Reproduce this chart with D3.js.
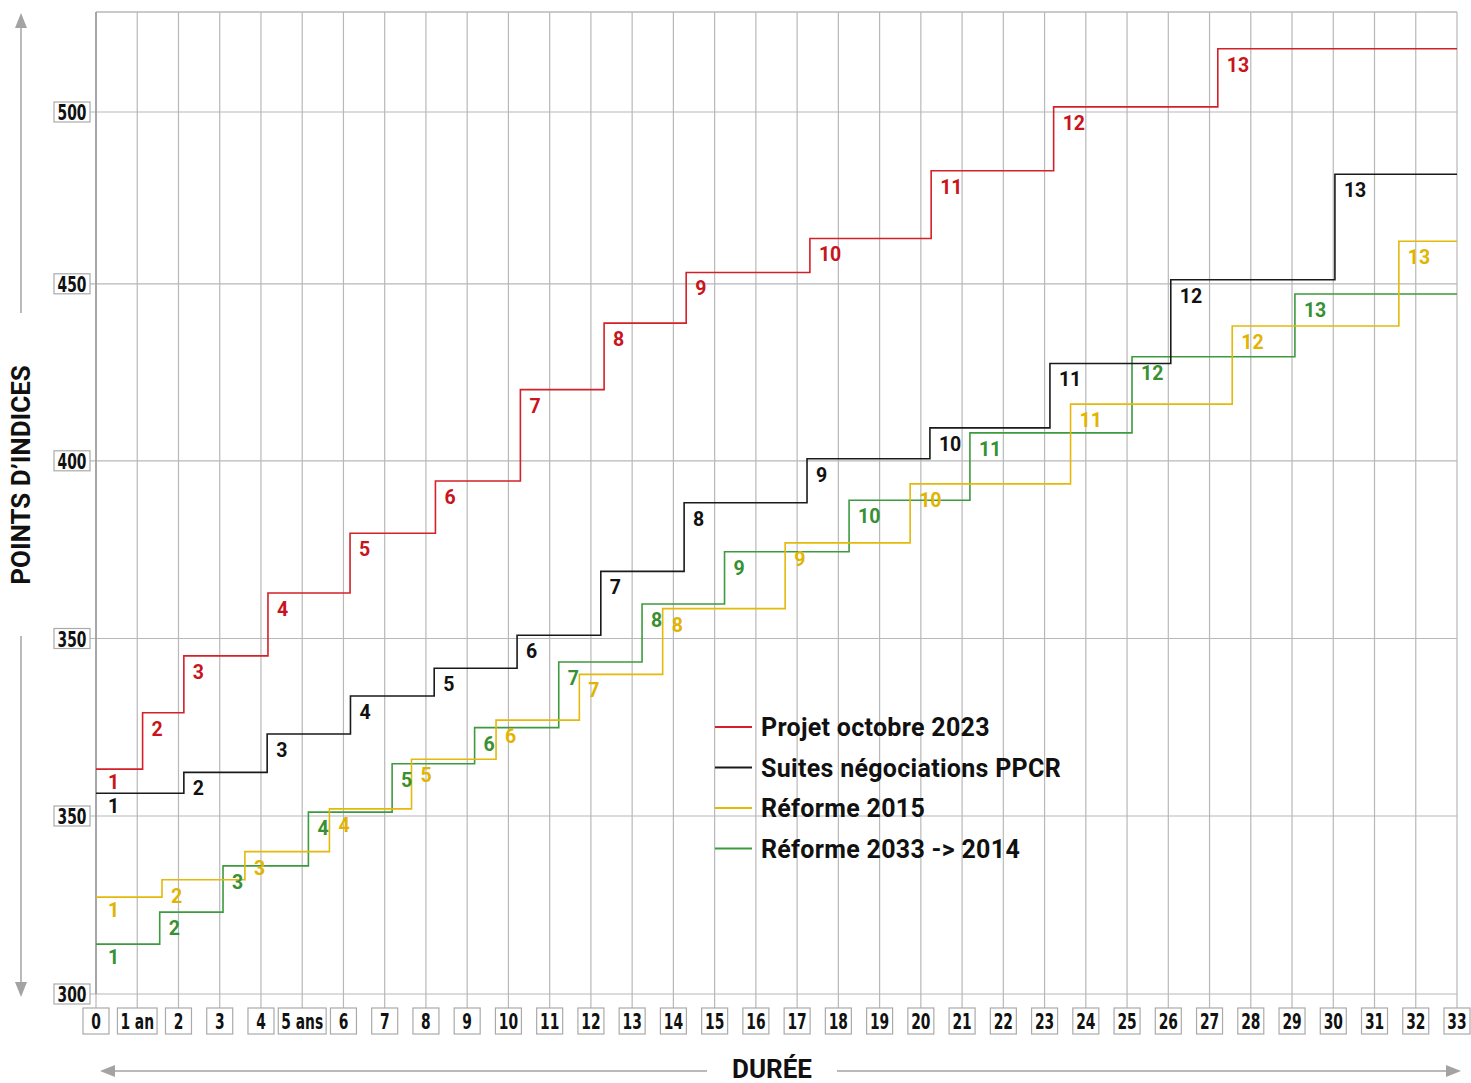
<!DOCTYPE html>
<html>
<head>
<meta charset="utf-8">
<script src="https://cdn.jsdelivr.net/npm/d3@7"></script>
<style>
  body { margin: 0; background: #fff; }
  .echelon { font-family: Roboto, 'Noto Sans', sans-serif; font-weight: 700; font-size: 19.5px; }
  .tick-label { font-family: 'DejaVu Sans Condensed', 'DejaVu Sans', sans-serif; font-weight: 700; font-size: 22px; fill: #111; }
  .legend-label { font-family: Roboto, 'Noto Sans', sans-serif; font-weight: 700; font-size: 25px; fill: #111; }
  .axis-title { font-family: Roboto, 'Noto Sans', sans-serif; font-weight: 700; font-size: 26px; fill: #111; }
</style>
</head>
<body>
<div id="chart"></div>
<script>
// ticks
var xTicks = d3.range(0, 34)
var xTickLabels = ['0', '1 an', '2', '3', '4', '5 ans', '6', '7', '8', '9', '10', '11', '12', '13', '14', '15', '16',
  '17', '18', '19', '20', '21', '22', '23', '24', '25', '26', '27', '28', '29', '30', '31', '32', '33']
var yTicks = [250, 300, 350, 400, 450, 500]
var yTickLabels = ['300', '350', '350', '400', '450', '500']

// series (step start in years, index points)
var seriesNames = ['Projet octobre 2023', 'Suites négociations PPCR', 'Réforme 2015', 'Réforme 2033 -> 2014']
var echelons = ['1', '2', '3', '4', '5', '6', '7', '8', '9', '10', '11', '12', '13']

var redSteps = [0, 1.13, 2.13, 4.17, 6.16, 8.23, 10.29, 12.32, 14.31, 17.31, 20.25, 23.22, 27.2]
var redValues = [313.2, 329.1, 345.1, 362.8, 379.6, 394.3, 420.1, 438.9, 453.3, 463.2, 482.9, 501.5, 518.4]

var blackSteps = [0, 2.13, 4.15, 6.17, 8.2, 10.21, 12.24, 14.26, 17.24, 20.22, 23.13, 26.06, 30.04]
var blackValues = [306.4, 312.3, 323.1, 333.8, 341.6, 350.9, 368.9, 388.2, 400.6, 409.3, 427.5, 451.2, 481.9]

var yellowSteps = [0, 1.6, 3.61, 5.66, 7.65, 9.7, 11.72, 13.74, 16.71, 19.74, 23.63, 27.55, 31.59]
var yellowValues = [277.2, 282.1, 290, 302, 316, 327, 339.9, 358.4, 376.9, 393.5, 416, 438.1, 462.4]

var greenSteps = [0, 1.545, 3.08, 5.15, 7.18, 9.18, 11.22, 13.24, 15.24, 18.26, 21.19, 25.12, 29.07]
var greenValues = [264, 273, 286, 301.1, 314.7, 324.9, 343.4, 359.7, 374.4, 388.9, 407.9, 429.4, 447.1]

var margin = { top: 12, left: 96, right: 14, bottom: 89 }
var width = 1471 - margin.left - margin.right
var height = 1083 - margin.top - margin.bottom

var gridColor = '#b8b8b8'
var arrowColor = '#a3a3a3'
var narrow = 0.7 // squeeze for the condensed tick font

var series = [
  { name: seriesNames[3], steps: greenSteps, values: greenValues, color: '#3d9a3f', text: '#379134' },
  { name: seriesNames[2], steps: yellowSteps, values: yellowValues, color: '#e4b90a', text: '#e2b400' },
  { name: seriesNames[1], steps: blackSteps, values: blackValues, color: '#1a1a1a', text: '#111' },
  { name: seriesNames[0], steps: redSteps, values: redValues, color: '#d42028', text: '#c8141c' }
]

var svg = d3
  .select('#chart')
  .append('svg')
  .attr('width', 1471)
  .attr('height', 1083)

var g = svg
  .append('g')
  .attr('transform', 'translate(' + margin.left + ',' + margin.top + ')')

var xScale = d3.scaleLinear().domain([0, 33]).range([0, width])

// the gridlines are not quite evenly spaced in the original
var yScale = d3
  .scaleLinear()
  .domain(yTicks)
  .range([height, height - 178, height - 355.5, height - 533.2, height - 710.2, height - 882])

// vertical gridlines, running down to the tick boxes
g.selectAll('.vgrid')
  .data(xTicks)
  .enter()
  .append('line')
  .attr('class', 'vgrid')
  .attr('x1', d => xScale(d))
  .attr('x2', d => xScale(d))
  .attr('y1', 0)
  .attr('y2', height + 14)
  .attr('stroke', gridColor)
  .attr('stroke-width', 1.2)

// horizontal gridlines
g.selectAll('.hgrid')
  .data(yTicks)
  .enter()
  .append('line')
  .attr('class', 'hgrid')
  .attr('x1', -6)
  .attr('x2', width)
  .attr('y1', d => yScale(d))
  .attr('y2', d => yScale(d))
  .attr('stroke', gridColor)
  .attr('stroke-width', 1.2)

// top border
g.append('line')
  .attr('x1', 0)
  .attr('x2', width)
  .attr('y1', 0)
  .attr('y2', 0)
  .attr('stroke', gridColor)
  .attr('stroke-width', 1.5)

g.append('line')
  .attr('x1', 0)
  .attr('x2', 0)
  .attr('y1', 0)
  .attr('y2', height)
  .attr('stroke', '#999')
  .attr('stroke-width', 1.5)

// x tick boxes
var xTickG = g
  .selectAll('.x-tick')
  .data(xTicks)
  .enter()
  .append('g')
  .attr('class', 'x-tick')
  .attr('transform', d => 'translate(' + xScale(d) + ',' + (height + 14) + ')')

xTickG.append('rect')
xTickG
  .append('text')
  .attr('class', 'tick-label')
  .attr('text-anchor', 'middle')
  .attr('transform', 'translate(0,21) scale(' + narrow + ',1)')
  .text((d, i) => xTickLabels[i])

xTickG.each(function() {
  var w = d3.select(this).select('text').node().getComputedTextLength() * narrow
  var bw = Math.max(26, w + 6)
  d3.select(this)
    .select('rect')
    .attr('x', -bw / 2)
    .attr('y', 0)
    .attr('width', bw)
    .attr('height', 26)
    .attr('fill', '#fff')
    .attr('stroke', '#aaa')
    .attr('stroke-width', 1.2)
})

// y tick boxes
var yTickG = g
  .selectAll('.y-tick')
  .data(yTicks)
  .enter()
  .append('g')
  .attr('class', 'y-tick')
  .attr('transform', d => 'translate(-6,' + yScale(d) + ')')

yTickG
  .append('rect')
  .attr('x', -36)
  .attr('y', -10)
  .attr('width', 36)
  .attr('height', 20)
  .attr('fill', '#fff')
  .attr('stroke', '#aaa')
  .attr('stroke-width', 1.2)

yTickG
  .append('text')
  .attr('class', 'tick-label')
  .attr('text-anchor', 'middle')
  .attr('transform', 'translate(-18,8) scale(' + narrow + ',1)')
  .text((d, i) => yTickLabels[i])

// step lines
var line = d3
  .line()
  .x(d => xScale(d.x))
  .y(d => yScale(d.y))
  .curve(d3.curveStepAfter)

series.forEach(s => {
  var pts = s.steps.map((x, i) => ({ x: x, y: s.values[i] }))
  pts.push({ x: 33, y: s.values[s.values.length - 1] })

  g.append('path')
    .datum(pts)
    .attr('d', line)
    .attr('fill', 'none')
    .attr('stroke', s.color)
    .attr('stroke-width', 1.6)
})

series.forEach(s => {
  g.selectAll(null)
    .data(s.steps)
    .enter()
    .append('text')
    .attr('class', 'echelon')
    .attr('x', (d, i) => xScale(d) + (i === 0 ? 12 : 9))
    .attr('y', (d, i) => yScale(s.values[i]) + (i === 0 ? 20 : 23))
    .attr('fill', s.text)
    .text((d, i) => echelons[i])
})

// legend
var legend = g
  .selectAll('.legend')
  .data(series.slice().reverse())
  .enter()
  .append('g')
  .attr('class', 'legend')
  .attr('transform', (d, i) => 'translate(619,' + (715 + i * 40.5) + ')')

legend
  .append('line')
  .attr('x1', 0)
  .attr('x2', 37)
  .attr('stroke', d => d.color)
  .attr('stroke-width', 2)

legend
  .append('text')
  .attr('class', 'legend-label')
  .attr('x', 46)
  .attr('y', 9)
  .attr('letter-spacing', 0.3)
  .text(d => d.name)

// axis titles with arrows
function arrowHead(x, y, dir) {
  // dir: 'up', 'down', 'left', 'right'
  var p
  if (dir === 'up') p = [[x, y], [x - 6, y + 15], [x + 6, y + 15]]
  if (dir === 'down') p = [[x, y], [x - 6, y - 15], [x + 6, y - 15]]
  if (dir === 'left') p = [[x, y], [x + 15, y - 6], [x + 15, y + 6]]
  if (dir === 'right') p = [[x, y], [x - 15, y - 6], [x - 15, y + 6]]
  svg.append('path')
    .attr('d', 'M' + p.join('L') + 'Z')
    .attr('fill', arrowColor)
}

var yTitleX = 21
var yTitleY = 475
svg.append('text')
  .attr('class', 'axis-title')
  .attr('text-anchor', 'middle')
  .attr('transform', 'translate(' + (yTitleX + 9) + ',' + yTitleY + ') rotate(-90)')
  .text('POINTS D’INDICES')

svg.append('line')
  .attr('x1', yTitleX).attr('x2', yTitleX)
  .attr('y1', 20).attr('y2', 313)
  .attr('stroke', arrowColor).attr('stroke-width', 1.5)
svg.append('line')
  .attr('x1', yTitleX).attr('x2', yTitleX)
  .attr('y1', 636).attr('y2', 990)
  .attr('stroke', arrowColor).attr('stroke-width', 1.5)
arrowHead(yTitleX, 13, 'up')
arrowHead(yTitleX, 997, 'down')

var xTitleY = 1071
svg.append('text')
  .attr('class', 'axis-title')
  .attr('text-anchor', 'middle')
  .attr('font-size', 24)
  .attr('x', 772)
  .attr('y', xTitleY + 7)
  .text('DURÉE')

svg.append('line')
  .attr('x1', 108).attr('x2', 707)
  .attr('y1', xTitleY).attr('y2', xTitleY)
  .attr('stroke', arrowColor).attr('stroke-width', 1.5)
svg.append('line')
  .attr('x1', 837).attr('x2', 1453)
  .attr('y1', xTitleY).attr('y2', xTitleY)
  .attr('stroke', arrowColor).attr('stroke-width', 1.5)
arrowHead(100, xTitleY, 'left')
arrowHead(1461, xTitleY, 'right')
</script>
</body>
</html>
